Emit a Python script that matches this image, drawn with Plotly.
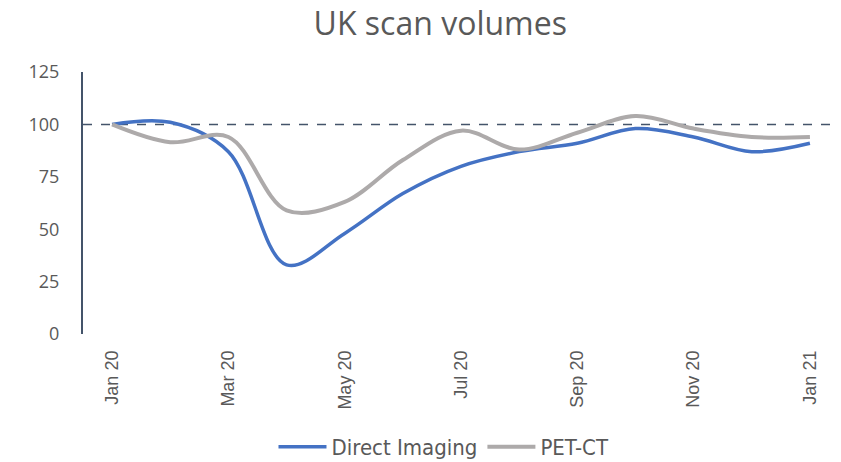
import plotly.graph_objects as go

months = ["Jan 20", "Feb 20", "Mar 20", "Apr 20", "May 20", "Jun 20", "Jul 20",
          "Aug 20", "Sep 20", "Oct 20", "Nov 20", "Dec 20", "Jan 21"]
direct_imaging = [100, 101, 87, 33, 48, 67, 80, 87, 91, 98, 94, 87, 91]
pet_ct = [100, 91.5, 94, 59, 63, 83, 97, 88, 96, 104, 98, 94, 94]
tick_labels = ["Jan 20", "Mar 20", "May 20", "Jul 20", "Sep 20", "Nov 20", "Jan 21"]
y_ticks = [0, 25, 50, 75, 100, 125]
baseline = 100

fig = go.Figure()
fig.add_trace(go.Scatter(x=months, y=direct_imaging, name="Direct Imaging", mode="lines",
                         line=dict(color="#4472C4", width=3.5, shape="spline", smoothing=1)))
fig.add_trace(go.Scatter(x=months, y=pet_ct, name="PET-CT", mode="lines",
                         line=dict(color="#ADAAAA", width=4, shape="spline", smoothing=1)))

fig.add_shape(type="line", xref="paper", yref="y", x0=0, x1=1, y0=baseline, y1=baseline,
              line=dict(color="#44546A", width=1.5, dash="dash"), layer="below")

fig.update_layout(
    width=841, height=462,
    paper_bgcolor="white", plot_bgcolor="white",
    margin=dict(l=75, r=10, t=64, b=136, autoexpand=False),
    title=dict(text="UK scan volumes", x=0.514, xref="container", xanchor="center",
               y=0.966, yref="container", yanchor="middle",
               font=dict(family="Open Sans", size=32, color="#595959")),
    font=dict(family="Open Sans", color="#595959"),
    showlegend=True,
    legend=dict(orientation="h", x=0.4775, xanchor="center", y=-0.431, yanchor="middle",
                font=dict(family="Liberation Sans Narrow, DejaVu Sans Condensed, Roboto Condensed, Open Sans",
                          size=22, color="#595959"),
                itemwidth=48),
)
fig.update_xaxes(type="category", range=[-0.5, 12.5], tickvals=tick_labels, ticktext=tick_labels,
                 tickangle=-90, tickfont=dict(family="Liberation Sans", size=18, color="#595959"),
                 showgrid=False, showline=False, zeroline=False, ticks="", ticklabelstandoff=12,
                 automargin=False)
fig.update_yaxes(range=[0, 125], tickvals=y_ticks, showgrid=False, zeroline=False,
                 showline=True, linecolor="#44546A", linewidth=2, ticks="",
                 tickfont=dict(family="Open Sans", size=18, color="#595959"), ticklabelstandoff=18,
                 automargin=False)

fig.write_html("out.html")
